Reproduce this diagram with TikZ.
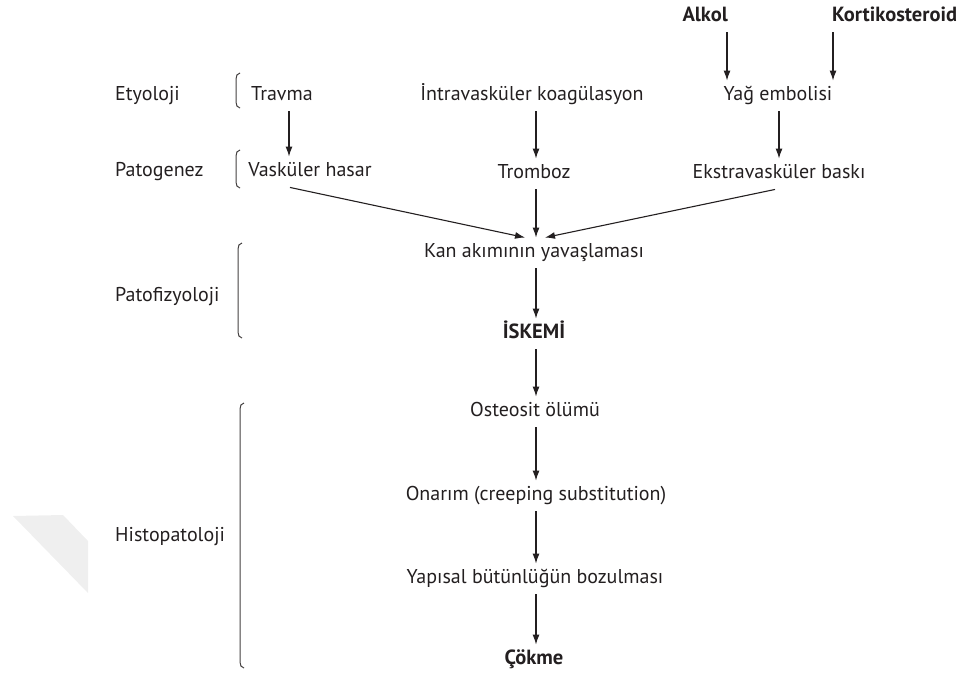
\documentclass[tikz,border=0pt]{standalone}
\usepackage{fontspec}
\setmainfont{PT Sans}
\usetikzlibrary{arrows.meta}
\definecolor{ink}{HTML}{231F20}
\definecolor{wm}{HTML}{EFEFEF}
\tikzset{
  lbl/.style={font=\fontsize{20}{22}\selectfont, text=ink, inner xsep=0pt, inner ysep=6pt, text height=14pt, text depth=4.5pt},
  bld/.style={lbl, font=\fontsize{20.5}{23}\selectfont\bfseries},
  side/.style={lbl, anchor=west},
  arr/.style={draw=ink, line width=1.1pt, -{Latex[length=10pt,width=7pt]}},
  brc/.style={draw=ink!85, line width=1pt}
}
\newcommand{\mybrace}[3]{% x, top, bottom
  \draw[brc] (#1+4,#2) to[out=180,in=90] (#1,#2+6) -- (#1,#3-6) to[out=-90,in=180] (#1+4,#3);}
\begin{document}
\begin{tikzpicture}[x=1pt,y=-1pt]
\useasboundingbox (0,0) rectangle (968,686);
\fill[wm] (13,516) -- (63,515) -- (88,541) -- (88,593) -- cycle;

% side labels
\node[side] (ety) at (115,96) {Etyoloji};
\node[side] (pat) at (115,172) {Patogenez};
\node[side] (pfz) at (115,297) {Patofizyoloji};
\node[side] (his) at (115,537) {Histopatoloji};

\mybrace{236}{73}{108}
\mybrace{236}{150}{188}
\mybrace{238}{243}{338}
\mybrace{240}{403}{668}

% nodes
\node[bld, anchor=east] (alk) at (728,17) {Alkol};
\node[bld, anchor=west] (kor) at (832,17) {Kortikosteroid};
\node[lbl] (tra) at (282,96) {Travma};
\node[lbl] (ivk) at (532,96) {İntravasküler koagülasyon};
\node[lbl] (yag) at (778,96) {Yağ embolisi};
\node[lbl] (vas) at (310,172) {Vasküler hasar};
\node[lbl] (tro) at (534,174) {Tromboz};
\node[lbl] (eks) at (779,174) {Ekstravasküler baskı};
\node[lbl] (kan) at (534,253) {Kan akımının yavaşlaması};
\node[bld] (isk) at (534,334) {İSKEMİ};
\node[lbl] (ost) at (535,412) {Osteosit ölümü};
\node[lbl] (ona) at (536,496) {Onarım (creeping substitution)};
\node[lbl] (yap) at (535,579) {Yapısal bütünlüğün bozulması};
\node[bld] (cok) at (534,660) {Çökme};

% connectors
\draw[arr] ([xshift=-1pt]alk.south east) -- ([xshift=-1pt]alk.south east |- yag.north);
\draw[arr] ([xshift=1pt]kor.south west) -- ([xshift=1pt]kor.south west |- yag.north);
\draw[arr] (tra.south -| 289,0) -- (vas.north -| 289,0);
\draw[arr] (ivk.south -| 536,0) -- (tro.north -| 536,0);
\draw[arr] (yag.south -| 779,0) -- (eks.north -| 779,0);
\draw[arr] ([xshift=-20pt]vas.south) -- ([xshift=-9pt]kan.north);
\draw[arr] (tro.south -| 536,0) -- (kan.north -| 536,0);
\draw[arr] ([xshift=-4pt]eks.south) -- ([xshift=11pt]kan.north);
\draw[arr] (kan.south -| 536,0) -- (isk.north -| 536,0);
\draw[arr] (isk.south -| 536,0) -- (ost.north -| 536,0);
\draw[arr] (ost.south -| 536,0) -- (ona.north -| 536,0);
\draw[arr] (ona.south -| 536,0) -- (yap.north -| 536,0);
\draw[arr] (yap.south -| 536,0) -- (cok.north -| 536,0);
\end{tikzpicture}
\end{document}
